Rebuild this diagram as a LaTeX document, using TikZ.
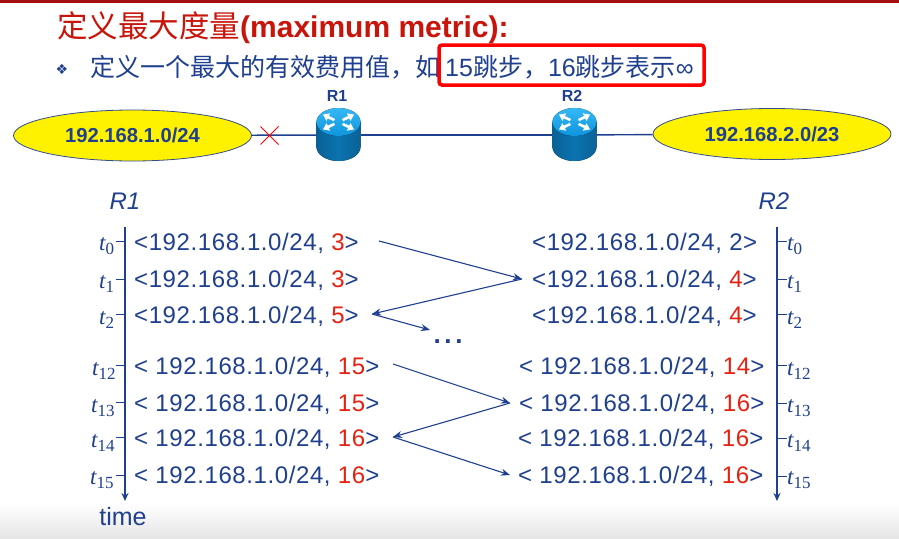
\documentclass[tikz,border=0pt]{standalone}
\usepackage{fontspec}
\setmainfont{Liberation Sans}
\newfontfamily\cjk{Noto Sans CJK SC}
\newfontfamily\tserif{Liberation Serif}
\newfontfamily\djv{DejaVu Sans}
\usetikzlibrary{shapes.geometric,arrows.meta,calc}
\definecolor{navy}{HTML}{1F3F8F}
\definecolor{redt}{HTML}{E8200F}
\definecolor{titler}{HTML}{C8140A}
\definecolor{yel}{HTML}{FFF200}
\definecolor{bar}{HTML}{A50E0E}
\definecolor{rbot}{HTML}{0B73B0}
\definecolor{rtop}{HTML}{0F95DD}
\definecolor{rtop2}{HTML}{35B8F5}
\newcommand{\fs}[1]{\fontsize{#1}{#1}\selectfont}
\newcommand{\rd}[1]{\textcolor{redt}{#1}}
\newcommand{\tlab}[1]{{\tserif\itshape\fs{23}t\raisebox{-4.5pt}{\fs{17}\upshape #1}}}
\newcommand{\routerart}[1]{%
  \fill[left color=rbot!85!black,right color=rbot!85!black,middle color=rbot] ($(#1)+(-22,-13)$) -- ($(#1)+(-22,12)$) arc[start angle=180,end angle=0,x radius=22,y radius=14] -- ($(#1)+(22,-13)$) -- cycle;
  \fill[top color=rtop2,bottom color=rtop] ($(#1)+(0,-13)$) ellipse[x radius=22,y radius=14];
  \foreach \a in {35,145,215,325}{
    \draw[white,line width=2.6pt,-{Triangle[length=6pt,width=8pt]}] ($(#1)+(0,-13)+(\a:5 and 3.4)$) -- ($(#1)+(0,-13)+(\a:19 and 13)$);
  }}
\tikzset{
  x=1pt,y=-1pt,
  lan/.style={ellipse,draw=navy!80!gray,line width=.8pt,fill=yel,text=navy,font=\bfseries\fs{20.2},inner sep=0,minimum width=238pt,minimum height=51pt},
  link/.style={navy,line width=1.4pt},
  msg/.style={navy,anchor=base west,inner sep=0,font=\fs{24}\addfontfeature{LetterSpace=2.5}},
  axis/.style={navy,line width=1.4pt,-{Stealth[length=8pt,width=7pt]}},
  tick/.style={navy,line width=1pt},
  flow/.style={navy,line width=1.1pt,-{Stealth[length=9pt,width=7pt]}},
  tl/.style={navy,anchor=base,inner sep=0},
  routerbox/.style={inner sep=0,minimum width=44pt,minimum height=52pt},
  rlabel/.style={navy,font=\bfseries\fs{16},inner sep=0},
  axt/.style={navy,font=\itshape\fs{24},inner sep=0},
}
\begin{document}
\begin{tikzpicture}
\useasboundingbox (0,0) rectangle (899,538);
\fill[white] (0,0) rectangle (899,538);
\fill[top color=white,bottom color=black!10] (0,503) rectangle (899,538);
\fill[bar] (0,0) rectangle (899,3);
% title
\node[anchor=base west,inner sep=0,text=titler] (title) at (57,37) {{\cjk\fs{30.5}定义最大度量}{\bfseries\fs{30}(maximum metric):}};
\node[inner sep=0,text=navy] (bul) at (62,69) {\djv\fs{14}❖};
\node[anchor=base west,inner sep=0,text=navy] (sub) at (90,76) {\cjk\fs{25}定义一个最大的有效费用值，如};
\node[anchor=base west,inner sep=0,text=navy] (subb) at (445,76) {\fs{25}15{\cjk{}跳步，}16{\cjk{}跳步表示}∞};
\node[draw=red,line width=3.5pt,rounded corners=3pt,minimum width=265pt,minimum height=40pt,inner sep=0] (hl) at (571.5,65) {};
% network
\node[lan] (n1) at (132.5,135.5) {192.168.1.0/24};
\node[lan] (n2) at (772,134) {192.168.2.0/23};
\node[routerbox] (r1) at (338.5,135) {};
\node[routerbox] (r2) at (574.5,135) {};
\draw[link] (n1) -- (r1);
\draw[link] (r1) -- (r2);
\draw[link] (r2) -- (n2);
\routerart{r1}
\routerart{r2}
\node[rlabel] (r1l) at (337,96) {R1};
\node[rlabel] (r2l) at (572,96) {R2};
\coordinate (xc) at (269.5,135.5);
\draw[red,line width=1pt] ($(xc)+(-9,-9)$) -- ($(xc)+(9,9)$) ($(xc)+(-9,9)$) -- ($(xc)+(9,-9)$);
% axes
\node[axt] (ar1) at (125,201) {R1};
\node[axt] (ar2) at (774,201) {R2};
\coordinate (a1s) at (125,227); \coordinate (a1e) at (125,501);
\coordinate (a2s) at (777,227); \coordinate (a2e) at (777,501);
\draw[axis] (a1s) -- (a1e);
\draw[axis] (a2s) -- (a2e);
\node[navy,inner sep=0,font=\fs{25}] (time) at (123,517) {time};
\foreach \y in {241,279,314,365,402,437,475}{
  \draw[tick] (116,\y) -- (125,\y);
}
\foreach \y in {241,279,314,365,403,438,476}{
  \draw[tick] (777,\y) -- (787,\y);
}
\node[tl,anchor=base west] (tl0) at (99,250) {\tlab{0}};
\node[tl,anchor=base west] (tl1) at (99,288) {\tlab{1}};
\node[tl,anchor=base west] (tl2) at (99,324) {\tlab{2}};
\node[tl,anchor=base west] (tl12) at (92,375) {\tlab{12}};
\node[tl,anchor=base west] (tl13) at (91,412) {\tlab{13}};
\node[tl,anchor=base west] (tl14) at (91,447) {\tlab{14}};
\node[tl,anchor=base west] (tl15) at (90,484) {\tlab{15}};
\node[tl,anchor=base west] (tr0) at (787,250) {\tlab{0}};
\node[tl,anchor=base west] (tr1) at (787,288) {\tlab{1}};
\node[tl,anchor=base west] (tr2) at (787,324) {\tlab{2}};
\node[tl,anchor=base west] (tr12) at (787,375) {\tlab{12}};
\node[tl,anchor=base west] (tr13) at (787,412) {\tlab{13}};
\node[tl,anchor=base west] (tr14) at (787,447) {\tlab{14}};
\node[tl,anchor=base west] (tr15) at (787,484) {\tlab{15}};
% messages
\node[msg] (m0) at (134,250) {<192.168.1.0/24, \rd{3}>};
\node[msg] (m1) at (134,287) {<192.168.1.0/24, \rd{3}>};
\node[msg] (m2) at (134,323) {<192.168.1.0/24, \rd{5}>};
\node[msg] (m12) at (134,374) {< 192.168.1.0/24, \rd{15}>};
\node[msg] (m13) at (134,411) {< 192.168.1.0/24, \rd{15}>};
\node[msg] (m14) at (134,446) {< 192.168.1.0/24, \rd{16}>};
\node[msg] (m15) at (134,483) {< 192.168.1.0/24, \rd{16}>};
\node[msg] (p0) at (532,250) {<192.168.1.0/24, 2>};
\node[msg] (p1) at (532,287) {<192.168.1.0/24, \rd{4}>};
\node[msg] (p2) at (532,323) {<192.168.1.0/24, \rd{4}>};
\node[msg] (p12) at (519,374) {< 192.168.1.0/24, \rd{14}>};
\node[msg] (p13) at (519,411) {< 192.168.1.0/24, \rd{16}>};
\node[msg] (p14) at (518,446) {< 192.168.1.0/24, \rd{16}>};
\node[msg] (p15) at (518,483) {< 192.168.1.0/24, \rd{16}>};
% flows
\coordinate (f0) at (379,241); \coordinate (f1) at (522,279); \coordinate (f2) at (372,314); \coordinate (f3) at (430,330);
\coordinate (g0) at (393,364); \coordinate (g1) at (510,403); \coordinate (g2) at (393,437); \coordinate (g3) at (510,475);
\draw[flow] (f0) -- (f1);
\draw[flow] (f1) -- (f2);
\draw[flow] (f2) -- (f3);
\draw[flow] (g0) -- (g1);
\draw[flow] (g1) -- (g2);
\draw[flow] (g2) -- (g3);
\node[navy,inner sep=0,anchor=base,font=\bfseries\fs{26}\addfontfeature{LetterSpace=14}] (dots) at (448,343) {...};
\end{tikzpicture}
\end{document}
